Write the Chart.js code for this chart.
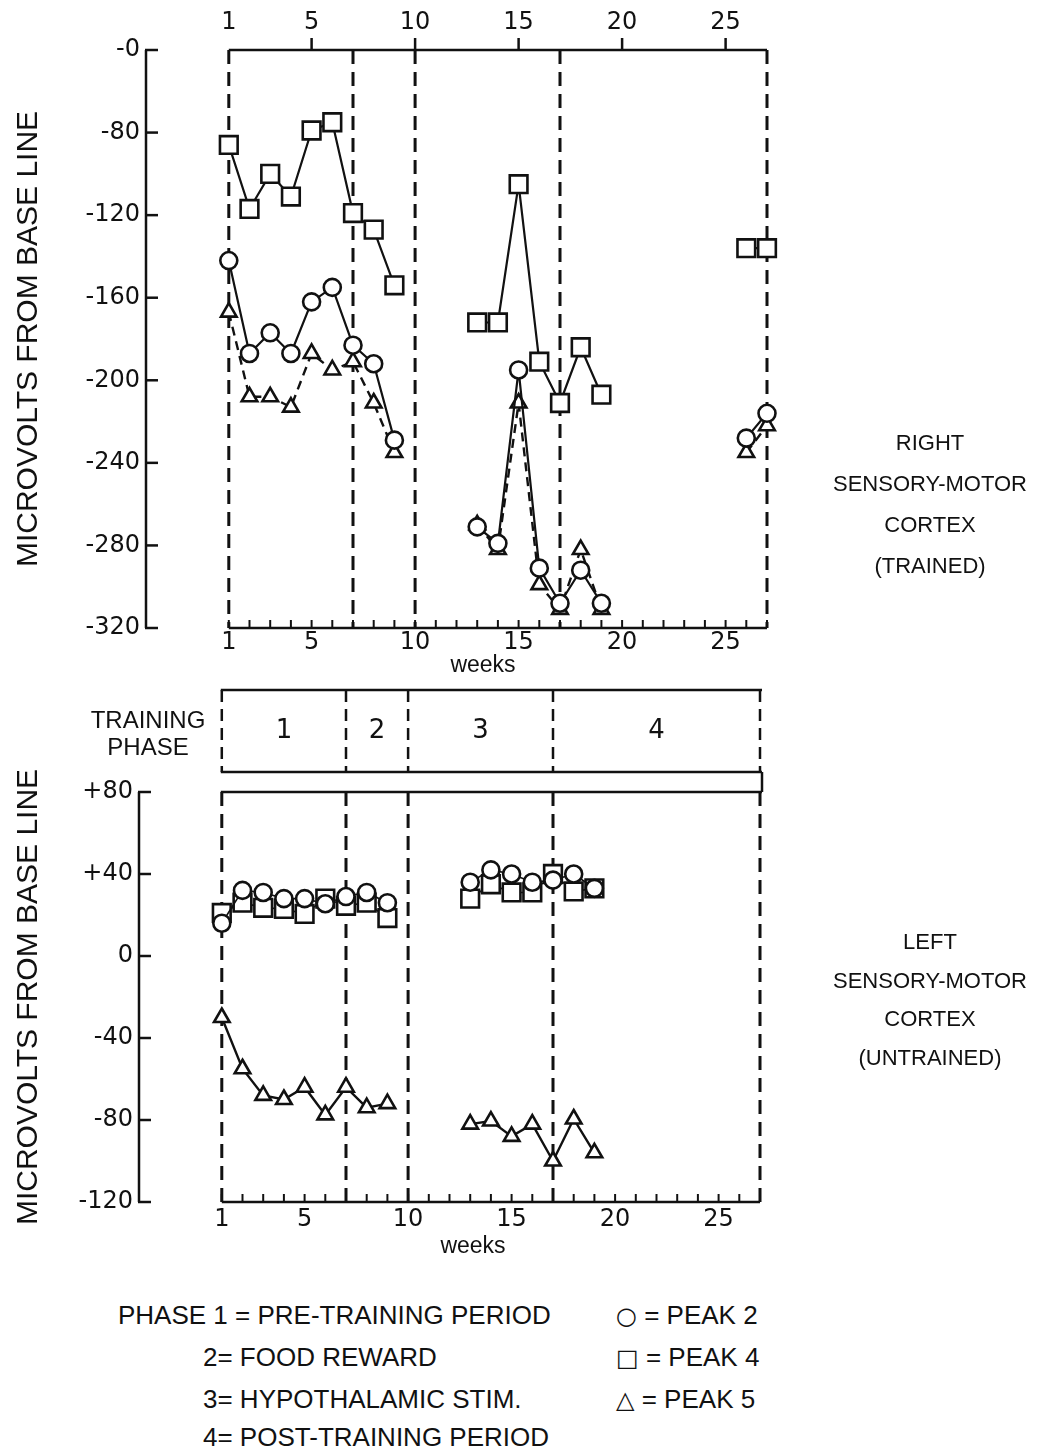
<!DOCTYPE html>
<html>
<head>
<meta charset="utf-8">
<script src="https://cdn.jsdelivr.net/npm/chart.js@4.4.1/dist/chart.umd.min.js"></script>
<style>
  html, body { margin: 0; padding: 0; background: #fff; }
  body { width: 1047px; height: 1453px; position: relative; overflow: hidden;
         font-family: "Liberation Sans", Arial, sans-serif; color: #111; }
  canvas { position: absolute; left: 0; }
  .t { position: absolute; white-space: nowrap; line-height: 1; }
  .grp { position: absolute; text-align: center; white-space: nowrap; font-size: 22px; }
  .leg { position: absolute; white-space: nowrap; font-size: 26px; line-height: 30px; }
  .sym { font-family: "DejaVu Sans", sans-serif; font-size: 24px; }
</style>
</head>
<body>
<canvas id="topChart" width="1047" height="690" style="top:0"></canvas>
<canvas id="botChart" width="1047" height="600" style="top:680px"></canvas>

<div class="t" style="left:433px;top:653px;width:100px;text-align:center;font-size:23px;">weeks</div>
<div class="t" style="left:423px;top:1234px;width:100px;text-align:center;font-size:23px;">weeks</div>

<div class="grp" style="left:820px;top:422px;width:220px;line-height:41px;">RIGHT<br>SENSORY-MOTOR<br>CORTEX<br>(TRAINED)</div>
<div class="grp" style="left:820px;top:923px;width:220px;line-height:38.5px;">LEFT<br>SENSORY-MOTOR<br>CORTEX<br>(UNTRAINED)</div>

<div class="grp" style="left:78px;top:706px;width:140px;line-height:27px;font-size:24px;">TRAINING<br>PHASE</div>

<div class="leg" style="left:118px;top:1300px;">PHASE 1 = PRE-TRAINING PERIOD</div>
<div class="leg" style="left:203px;top:1342px;">2= FOOD REWARD</div>
<div class="leg" style="left:203px;top:1384px;">3= HYPOTHALAMIC STIM.</div>
<div class="leg" style="left:203px;top:1422px;">4= POST-TRAINING PERIOD</div>
<div class="leg" style="left:616px;top:1300px;"><span class="sym">○</span> = PEAK 2</div>
<div class="leg" style="left:616px;top:1342px;"><span class="sym">□</span> = PEAK 4</div>
<div class="leg" style="left:616px;top:1384px;"><span class="sym">△</span> = PEAK 5</div>

<script>
// ---- data ----
const weeks = [1,2,3,4,5,6,7,8,9,10,11,12,13,14,15,16,17,18,19,20,21,22,23,24,25,26,27];

// Right sensory-motor cortex (trained)
const topPeak2 = [-142,-187,-177,-187,-162,-155,-183,-192,-229, null,null,null,
                  -271,-279,-195,-291,-308,-292,-308, null,null,null,null,null,null, -228,-216];
const topPeak4 = [-86,-117,-100,-111,-79,-75,-119,-127,-154, null,null,null,
                  -172,-172,-105,-191,-211,-184,-207, null,null,null,null,null,null, -136,-136];
const topPeak5 = [-167,-208,-208,-213,-187,-195,-191,-211,-235, null,null,null,
                  -270,-282,-211,-299,-311,-282,-311, null,null,null,null,null,null, -235,-222];

// Left sensory-motor cortex (untrained)
const botPeak2 = [16,32,31,28,28,25.5,29,31,26, null,null,null,
                  36,42,40,36,37,40,33, null,null,null,null,null,null,null,null];
const botPeak4 = [21,26,23.5,23,20.5,28,24.5,26,18.5, null,null,null,
                  28,35,31,31,40,31.5,33, null,null,null,null,null,null,null,null];
const botPeak5 = [-30,-55,-68,-70,-64,-77.5,-64,-74,-72, null,null,null,
                  -82,-80.5,-88,-82,-100,-79.5,-96, null,null,null,null,null,null,null,null];

const xTickLabels = [1,5,10,15,20,25];
const phaseWeeks = [1,7,10,17,27];
const phaseLabels = ['1','2','3','4'];

const yTicksTop = [-320,-280,-240,-200,-160,-120,-80,-40];
const yTickLabelsTop = ['-320','-280','-240','-200','-160','-120','-80','-0'];
const yTicksBot = [-120,-80,-40,0,40,80];
const yTickLabelsBot = ['-120','-80','-40','0','+40','+80'];

// ---- helpers ----
const INK = '#111';
const NUMFONT = {family: '"DejaVu Sans", sans-serif', size: 24};

function seg(ctx, x1, y1, x2, y2, w, dash) {
  ctx.save();
  ctx.strokeStyle = INK; ctx.lineWidth = w; ctx.setLineDash(dash || []);
  ctx.beginPath(); ctx.moveTo(x1, y1); ctx.lineTo(x2, y2); ctx.stroke();
  ctx.restore();
}
function pts(vals) { return weeks.map((w, i) => ({x: w, y: vals[i]})); }

function datasets(p2, p4, p5, triDash, thin) {
  const common = {borderColor: INK, pointBorderColor: INK, pointBackgroundColor: '#fff',
                  pointBorderWidth: 2.6, tension: 0, spanGaps: false, clip: false};
  return [
    Object.assign({label: 'PEAK 2', data: pts(p2), pointStyle: 'circle', pointRadius: 8.5,
                   borderWidth: thin ? 1.6 : 2.2}, common),
    Object.assign({label: 'PEAK 4', data: pts(p4), pointStyle: 'rect', pointRadius: 12.5,
                   borderWidth: thin ? 1.6 : 2.2}, common),
    Object.assign({label: 'PEAK 5', data: pts(p5), pointStyle: 'triangle', pointRadius: 9,
                   borderWidth: 2.4, borderDash: triDash ? [9, 6] : []}, common)
  ];
}

function xScale(position, labels, padding, height) {
  return {
    type: 'linear', position: position, min: -3, max: 27,
    grid: {display: false, drawTicks: false}, border: {display: false},
    afterBuildTicks: s => { s.ticks = labels.map(v => ({value: v})); },
    afterFit: s => { s.height = height; },
    ticks: {padding: padding, autoSkip: false, maxRotation: 0, color: INK, font: NUMFONT,
            callback: v => String(v)}
  };
}
function yScale(min, max, vals, labels, width) {
  return {
    type: 'linear', position: 'left', min: min, max: max,
    grid: {display: false, drawTicks: false}, border: {display: false},
    afterBuildTicks: s => { s.ticks = vals.map(v => ({value: v})); },
    afterFit: s => { s.width = width; },
    ticks: {padding: 6, color: INK, font: NUMFONT,
            callback: v => labels[vals.indexOf(v)]},
    title: {display: true, text: 'MICROVOLTS FROM BASE LINE', color: INK,
            font: {family: '"Liberation Sans", sans-serif', size: 30},
            padding: {top: 11, bottom: 0}}
  };
}

// ---- top chart frame ----
const topFrame = {
  id: 'topFrame',
  beforeDatasetsDraw(chart) {
    const {ctx, chartArea: a} = chart;
    const x = chart.scales.x, y = chart.scales.y;
    const xs = w => x.getPixelForValue(w);
    const x1 = xs(weeks[0]), xN = xs(weeks[weeks.length - 1]);
    const yt = y.getPixelForValue(yTicksTop[yTicksTop.length - 1]);
    const yb = y.getPixelForValue(yTicksTop[0]);
    seg(ctx, a.left, yt, a.left, yb, 2.5);
    yTicksTop.forEach(v => { const py = y.getPixelForValue(v); seg(ctx, a.left - 1, py, a.left + 12, py, 2.5); });
    seg(ctx, x1, a.bottom, xN, a.bottom, 2.5);
    weeks.forEach(w => seg(ctx, xs(w), a.bottom, xs(w), a.bottom - 8, 2));
    seg(ctx, x1, a.top, xN, a.top, 2.5);
    xTickLabels.slice(1).forEach(w => seg(ctx, xs(w), a.top, xs(w), a.top - 12, 2.5));
    phaseWeeks.forEach(w => seg(ctx, xs(w), a.top, xs(w), a.bottom, 3, [14, 8]));
  }
};

// ---- bottom chart frame + training phase box ----
const botFrame = {
  id: 'botFrame',
  beforeDatasetsDraw(chart) {
    const {ctx, chartArea: a} = chart;
    const x = chart.scales.x, y = chart.scales.y;
    const xs = w => x.getPixelForValue(w);
    const x1 = xs(weeks[0]), xN = xs(weeks[weeks.length - 1]);
    // phase box
    const bt = a.top - 102, bb = a.top - 20;
    seg(ctx, x1 - 1, bt, xN + 2, bt, 2.5);
    seg(ctx, x1 - 1, bb, xN + 2, bb, 2.5);
    phaseWeeks.forEach(w => seg(ctx, xs(w), bt, xs(w), bb, 2.5, [12, 7]));
    seg(ctx, xN + 2, bb, xN + 2, a.top, 2.5);
    ctx.save();
    ctx.fillStyle = INK; ctx.font = '26px "DejaVu Sans", sans-serif';
    ctx.textAlign = 'center'; ctx.textBaseline = 'middle';
    phaseLabels.forEach((lab, i) => {
      ctx.fillText(lab, (xs(phaseWeeks[i]) + xs(phaseWeeks[i + 1])) / 2, (bt + bb) / 2);
    });
    ctx.restore();
    // axes
    const yt = y.getPixelForValue(yTicksBot[yTicksBot.length - 1]);
    const yb = y.getPixelForValue(yTicksBot[0]);
    seg(ctx, a.left, yt, a.left, yb, 2.5);
    yTicksBot.forEach(v => { const py = y.getPixelForValue(v); seg(ctx, a.left - 1, py, a.left + 12, py, 2.5); });
    seg(ctx, x1 - 1, a.top, xN + 2, a.top, 2.5);
    seg(ctx, x1, a.bottom, xN, a.bottom, 2.5);
    weeks.forEach(w => seg(ctx, xs(w), a.bottom, xs(w), a.bottom - 8, 2));
    phaseWeeks.forEach(w => seg(ctx, xs(w), a.top, xs(w), a.bottom, 3, [14, 8]));
  }
};

const baseOpts = {
  responsive: false, animation: false, devicePixelRatio: 1,
  plugins: {legend: {display: false}, tooltip: {enabled: false}},
  elements: {line: {borderCapStyle: 'butt'}}
};

new Chart(document.getElementById('topChart'), {
  type: 'line',
  data: {datasets: datasets(topPeak2, topPeak4, topPeak5, true, false)},
  options: Object.assign({}, baseOpts, {
    layout: {padding: {left: 0, right: 280, top: 0, bottom: 0}},
    scales: {
      x: xScale('bottom', xTickLabels, 0, 62),
      x2: xScale('top', xTickLabels, 13, 50),
      y: yScale(-320, -40, yTicksTop, yTickLabelsTop, 146)
    }
  }),
  plugins: [topFrame]
});

new Chart(document.getElementById('botChart'), {
  type: 'line',
  data: {datasets: datasets(botPeak2, botPeak4, botPeak5, false, true)},
  options: Object.assign({}, baseOpts, {
    layout: {padding: {left: 0, right: 287, top: 112, bottom: 0}},
    scales: {
      x: xScale('bottom', xTickLabels, 3, 78),
      y: yScale(-120, 80, yTicksBot, yTickLabelsBot, 139)
    }
  }),
  plugins: [botFrame]
});
</script>
</body>
</html>
